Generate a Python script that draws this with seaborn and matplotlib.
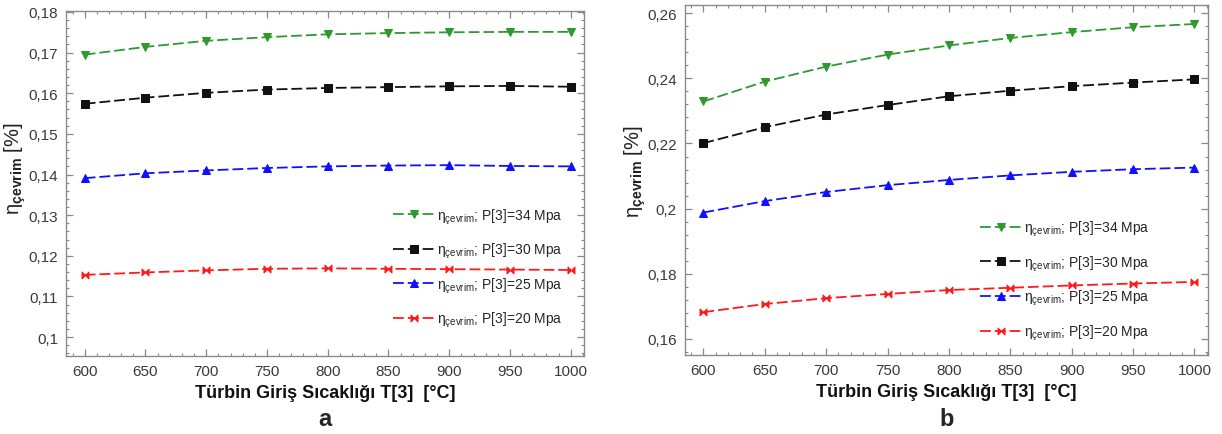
import numpy as np
import pandas as pd
import matplotlib
matplotlib.use("Agg")
import matplotlib.pyplot as plt
import matplotlib.ticker as mticker
import seaborn as sns

# ---- data ----
temps = [600, 650, 700, 750, 800, 850, 900, 950, 1000]
pressures = ["34", "30", "25", "20"]

# panel a
a_p34 = [0.1695, 0.1714, 0.1729, 0.1738, 0.1745, 0.1748, 0.1750, 0.1751, 0.1751]
a_p30 = [0.1574, 0.1589, 0.1601, 0.1609, 0.1613, 0.1615, 0.1617, 0.1618, 0.1616]
a_p25 = [0.1391, 0.1403, 0.1410, 0.1416, 0.1420, 0.1422, 0.1423, 0.1421, 0.1420]
a_p20 = [0.1153, 0.1159, 0.1164, 0.1168, 0.1169, 0.1168, 0.1167, 0.1166, 0.1165]

# panel b
b_p34 = [0.2329, 0.2390, 0.2436, 0.2473, 0.2501, 0.2524, 0.2542, 0.2557, 0.2567]
b_p30 = [0.2201, 0.2250, 0.2289, 0.2318, 0.2345, 0.2362, 0.2376, 0.2387, 0.2397]
b_p25 = [0.1988, 0.2023, 0.2051, 0.2072, 0.2088, 0.2102, 0.2113, 0.2121, 0.2126]
b_p20 = [0.1682, 0.1707, 0.1725, 0.1738, 0.1750, 0.1757, 0.1764, 0.1770, 0.1775]

x_label = "Türbin Giriş Sıcaklığı T[3]  [°C]"
panel_tags = ["a", "b"]

# ---- style ----
sns.set_style("ticks")
plt.rcParams["font.family"] = ["Liberation Sans", "DejaVu Sans"]
plt.rcParams["mathtext.fontset"] = "custom"
plt.rcParams["mathtext.rm"] = "Liberation Sans"
plt.rcParams["mathtext.it"] = "Liberation Sans:italic"
plt.rcParams["mathtext.bf"] = "Liberation Sans:bold"

colors = ["#2e9a2e", "#111111", "#1010ff", "#ff1a1a"]
bowtie = [(-1, -1), (-1, 1), (0, 0), (1, 1), (1, -1), (0, 0), (-1, -1)]
markers = ["v", "s", "^", bowtie]
msizes = [5.5, 5.5, 5.5, 5]

fig = plt.figure(figsize=(12.22, 4.35), dpi=100)
ax_a = fig.add_axes([0.0544, 0.179, 0.4236, 0.794])
ax_b = fig.add_axes([0.5605, 0.182, 0.428, 0.804])

def comma_fmt(v, pos):
    s = f"{v:.2f}".rstrip("0")
    if s.endswith("."):
        s = s[:-1]
    return s.replace(".", ",")

def draw(ax, series, ylim, ymajor, yminor, leg_anchor, ylab_xy):
    for vals, p, c, m, ms in zip(series, pressures, colors, markers, msizes):
        df = pd.DataFrame({"T": temps, "eta": vals})
        sns.lineplot(data=df, x="T", y="eta", ax=ax, color=c, marker=m,
                     markersize=ms, markeredgecolor=c, markerfacecolor=c,
                     linewidth=1.3, dashes=False,
                     label=r"$\mathrm{η}_{\mathrm{çevrim}}$; P[3]=" + p + " Mpa")
        ax.lines[-1].set_dashes([6, 2.2])
    ax.set_xlim(585, 1011)
    ax.set_ylim(*ylim)
    ax.xaxis.set_major_locator(mticker.MultipleLocator(50))
    ax.xaxis.set_minor_locator(mticker.MultipleLocator(10))
    ax.yaxis.set_major_locator(mticker.MultipleLocator(ymajor))
    ax.yaxis.set_minor_locator(mticker.MultipleLocator(yminor))
    ax.yaxis.set_major_formatter(mticker.FuncFormatter(comma_fmt))
    ax.tick_params(which="both", direction="in", top=True, right=True,
                   colors="#888888", labelcolor="#3a3a3a", labelsize=11)
    ax.tick_params(which="major", length=5, width=0.9, pad=6)
    ax.tick_params(which="minor", length=2.5, width=0.8)
    for sp in ax.spines.values():
        sp.set_color("#8a8a8a")
        sp.set_linewidth(1.0)
    ax.set_xlabel(x_label, fontsize=13, fontweight="bold", color="#111111", labelpad=4)
    ax.set_ylabel(r"$\mathrm{η}_{\mathbf{çevrim}}$ [%]", fontsize=14.5, color="#222222")
    ax.yaxis.set_label_coords(*ylab_xy)
    leg = ax.legend(loc="upper left", bbox_to_anchor=leg_anchor, frameon=False,
                    fontsize=10, handlelength=3.0, handletextpad=0.15,
                    labelspacing=1.1, borderpad=0, borderaxespad=0)
    for h in leg.legend_handles:
        h.set_dashes([6, 2.2])

draw(ax_a, [a_p34, a_p30, a_p25, a_p20], (0.0953, 0.1803), 0.01, 0.002,
     (0.631, 0.434), (-0.074, 0.547))
draw(ax_b, [b_p34, b_p30, b_p25, b_p20], (0.1551, 0.2625), 0.02, 0.004,
     (0.564, 0.389), (-0.071, 0.526))

fig.text(0.2662, 0.035, panel_tags[0], fontsize=17, fontweight="bold", ha="center", va="center")
fig.text(0.7745, 0.035, panel_tags[1], fontsize=17, fontweight="bold", ha="center", va="center")

fig.savefig("out.png", dpi=100)
